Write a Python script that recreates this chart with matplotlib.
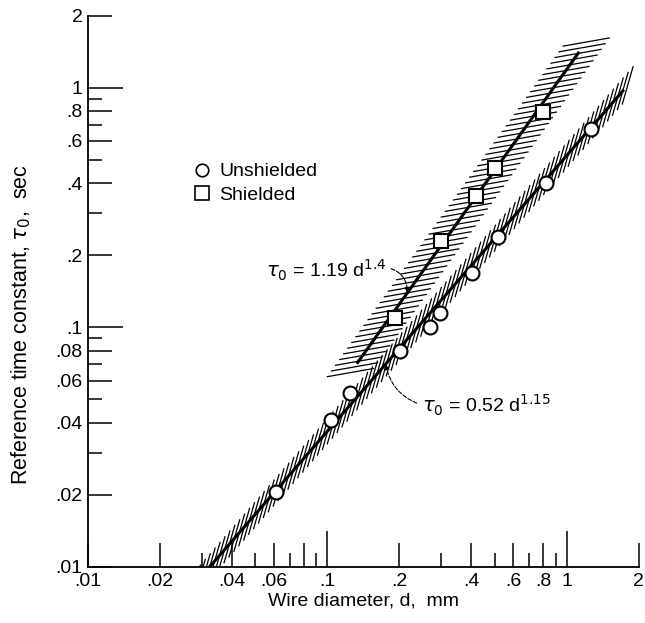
import numpy as np
import matplotlib.pyplot as plt
from matplotlib.collections import LineCollection

plt.rcParams['font.family'] = ['Liberation Sans', 'DejaVu Sans']
plt.rcParams['mathtext.fontset'] = 'dejavusans'

# measured points
d_unshielded = [0.061, 0.104, 0.124, 0.202, 0.269, 0.297, 0.402, 0.515, 0.822, 1.265]
tau_unshielded = [0.0206, 0.041, 0.0532, 0.0796, 0.100, 0.115, 0.169, 0.238, 0.400, 0.671]
d_shielded = [0.191, 0.299, 0.418, 0.501, 0.800]
tau_shielded = [0.109, 0.229, 0.353, 0.462, 0.791]

# correlations tau0 = c * d**n
coef_unshielded, exp_unshielded = 0.52, 1.15
coef_shielded, exp_shielded = 1.19, 1.4
line_range_unshielded = (0.0322, 1.72)
line_range_shielded = (0.134, 1.12)
band_range_unshielded = (0.028, 1.85)
band_range_shielded = (0.125, 1.22)

x_ticks = [.01, .02, .04, .06, .08, .1, .2, .4, .6, .8, 1, 2]
x_labels = ['.01', '.02', '.04', '.06', '', '.1', '.2', '.4', '.6', '.8', '1', '2']
y_ticks = [.01, .02, .04, .06, .08, .1, .2, .4, .6, .8, 1, 2]
y_labels = ['.01', '.02', '.04', '.06', '.08', '.1', '.2', '.4', '.6', '.8', '1', '2']
minor_ticks = [.03, .05, .07, .09, .3, .5, .7, .9]
decades = [.1, 1]

fs = 14

fig = plt.figure(figsize=(6.45, 6.23), dpi=100)
ax = fig.add_axes([0.1365, 0.0899, 0.8535, 0.8851])
ax.set_xscale('log')
ax.set_yscale('log')
ax.set_xlim(0.01, 2)
ax.set_ylim(0.01, 2)

for s in ['top', 'right']:
    ax.spines[s].set_visible(False)
for s in ['left', 'bottom']:
    ax.spines[s].set_linewidth(1.3)

ax.set_xticks(x_ticks, x_labels)
ax.set_yticks(y_ticks, y_labels)
ax.set_xticks(minor_ticks, minor=True)
ax.set_yticks(minor_ticks, minor=True)
ax.xaxis.set_minor_formatter(plt.NullFormatter())
ax.yaxis.set_minor_formatter(plt.NullFormatter())
ax.tick_params(which='both', direction='in', width=1.1, labelsize=fs, pad=4)
ax.tick_params(which='major', length=17)
ax.tick_params(which='minor', length=10)
for t, v in zip(ax.xaxis.get_major_ticks(), x_ticks):
    if v in decades:
        t.tick1line.set_markersize(26)
for t, v in zip(ax.yaxis.get_major_ticks(), y_ticks):
    if v in decades:
        t.tick1line.set_markersize(25)

ax.set_xlabel('Wire diameter, d,  mm', fontsize=fs, labelpad=2)
ax.set_ylabel(r'Reference time constant, $\tau_0$,  sec', fontsize=15.5)
ax.yaxis.set_label_coords(-0.10, 0.44)


def hatch_band(d0, d1, coef, expo, angle, length, step, lw=0.9):
    # short slanted strokes spaced evenly along the fit line in screen space
    d = np.logspace(np.log10(d0), np.log10(d1), 500)
    pts = ax.transData.transform(np.column_stack([d, coef * d ** expo]))
    s = np.concatenate([[0], np.cumsum(np.hypot(*np.diff(pts, axis=0).T))])
    si = np.arange(0, s[-1], step)
    cx = np.interp(si, s, pts[:, 0])
    cy = np.interp(si, s, pts[:, 1])
    dx = 0.5 * length * np.cos(np.radians(angle))
    dy = 0.5 * length * np.sin(np.radians(angle))
    inv = ax.transData.inverted()
    segs = [inv.transform([(x - dx, y - dy), (x + dx, y + dy)]) for x, y in zip(cx, cy)]
    ax.add_collection(LineCollection(segs, colors='k', linewidths=lw))


hatch_band(*band_range_unshielded, coef_unshielded, exp_unshielded, 74, 40, 7.5)
hatch_band(*band_range_shielded, coef_shielded, exp_shielded, 10, 48, 7.0)

d_line = np.logspace(np.log10(line_range_unshielded[0]), np.log10(line_range_unshielded[1]), 50)
ax.plot(d_line, coef_unshielded * d_line ** exp_unshielded, color='k', lw=2.2)
d_line = np.logspace(np.log10(line_range_shielded[0]), np.log10(line_range_shielded[1]), 50)
ax.plot(d_line, coef_shielded * d_line ** exp_shielded, color='k', lw=2.2)

ax.plot(d_unshielded, tau_unshielded, 'o', ms=10, mfc='white', mec='k', mew=1.5,
        label='Unshielded', zorder=5)
ax.plot(d_shielded, tau_shielded, 's', ms=10.5, mfc='white', mec='k', mew=1.5,
        label='Shielded', zorder=5)

leg = ax.legend(loc='upper left', bbox_to_anchor=(0.178, 0.747), frameon=False,
                fontsize=fs, markerscale=0.9, handlelength=0.8, handletextpad=0.5,
                labelspacing=0.3, borderaxespad=0)
for h in leg.legend_handles:
    h.set_markeredgewidth(1.2)

ax.annotate(r'$\tau_0$ = 1.19 d$^{1.4}$', xy=(0.216, 0.139), xytext=(0.0557, 0.162),
            ha='left', va='baseline', fontsize=fs,
            arrowprops=dict(arrowstyle='-|>', linestyle='--', lw=0.8, color='k',
                            mutation_scale=8, relpos=(1, 0.6),
                            connectionstyle='arc3,rad=-0.4', shrinkA=1, shrinkB=0))
ax.annotate(r'$\tau_0$ = 0.52 d$^{1.15}$', xy=(0.1755, 0.0703), xytext=(0.249, 0.0443),
            ha='left', va='baseline', fontsize=fs,
            arrowprops=dict(arrowstyle='-|>', linestyle='--', lw=0.8, color='k',
                            mutation_scale=8, relpos=(0, 0.5),
                            connectionstyle='arc3,rad=-0.3', shrinkA=2, shrinkB=0))

fig.savefig('out.png', dpi=100)
